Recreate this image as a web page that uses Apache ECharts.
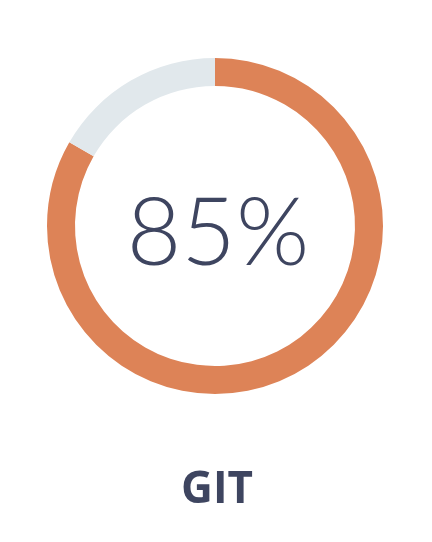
<!DOCTYPE html>
<html><head><meta charset="utf-8">
<script src="https://cdn.jsdelivr.net/npm/echarts@6/dist/echarts.min.js"></script>
<style>html,body{margin:0;padding:0;background:#fff}#c{width:432px;height:542px}</style>
</head><body><div id="c"></div>
<script>
const categories = ['GIT', 'Remaining'];
const values = [83.3, 16.7];
const centerLabel = '85%';
const skillName = 'GIT';
const chart = echarts.init(document.getElementById('c'));
chart.setOption({
  animation: false,
  title: [{
    text: centerLabel, left: 213, top: 230, textAlign: 'center', textVerticalAlign: 'middle',
    textStyle: {fontFamily: 'Lato', fontWeight: 300, fontSize: 94, color: '#3e4560'}
  }, {
    text: skillName, left: 212, top: 485, textAlign: 'center', textVerticalAlign: 'middle',
    textStyle: {fontFamily: 'Open Sans', fontWeight: 'bold', fontSize: 44, color: '#3e4560'}
  }],
  series: [{
    type: 'pie', radius: [140, 168], center: [215, 226], startAngle: 90, clockwise: true,
    silent: true, label: {show: false}, labelLine: {show: false},
    data: categories.map((n, i) => ({name: n, value: values[i], itemStyle: {color: i === 0 ? '#dd8357' : '#e1e8ec'}}))
  }]
});
</script></body></html>
